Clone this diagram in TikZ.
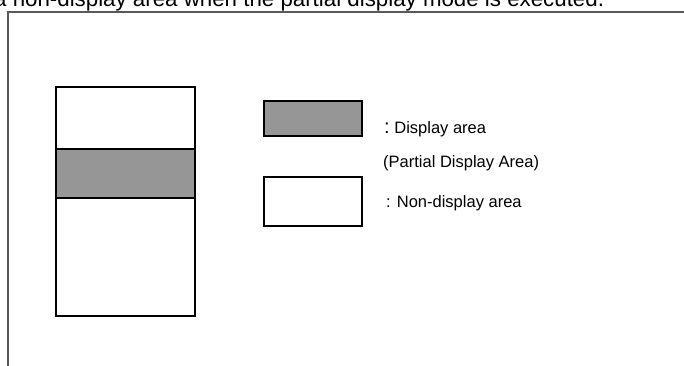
\documentclass[tikz,border=0pt]{standalone}
\usepackage{fontspec}
\setmainfont{Liberation Sans}
\usepackage{xcolor}
\definecolor{framegray}{HTML}{595959}
\definecolor{areagray}{HTML}{969696}
\begin{document}
\begin{tikzpicture}[x=1pt,y=-1pt,
    areabox/.style={draw=black,line width=1.3pt},
    shown/.style={areabox,fill=areagray},
    legendtext/.style={anchor=base west,inner sep=0pt,font=\fontsize{16.5}{19}\selectfont}]

            % Bild
            \useasboundingbox (0,0) rectangle (684,365);

            % Titel (oben abgeschnitten)
            \node[anchor=base west,inner sep=0pt,font=\fontsize{22.3}{25}\selectfont] (title) at (-6,6) {a non-display area when the partial display mode is executed.};

            % Rahmen
            \coordinate (fnw) at (8,12);
            \draw[framegray,line width=1.6pt] (684,12) -- (fnw) -- (8,370);

            % Anzeige
            \draw[areabox] (56,87) rectangle (195,316);
            \draw[shown] (56,149) rectangle (195,198);

            % Legende
            \draw[shown] (264,101) rectangle (362,136);
            \draw[areabox] (264,177) rectangle (362,226);

            \node[legendtext] (disp) at (384,133) {\fontsize{20}{21}\selectfont:\fontsize{16.5}{19}\selectfont\ Display area};
            \node[legendtext] (part) at (383,167) {(Partial Display Area)};
            \node[legendtext] (nondisp) at (386,207) {: Non-display area};

        \end{tikzpicture}
\end{document}
